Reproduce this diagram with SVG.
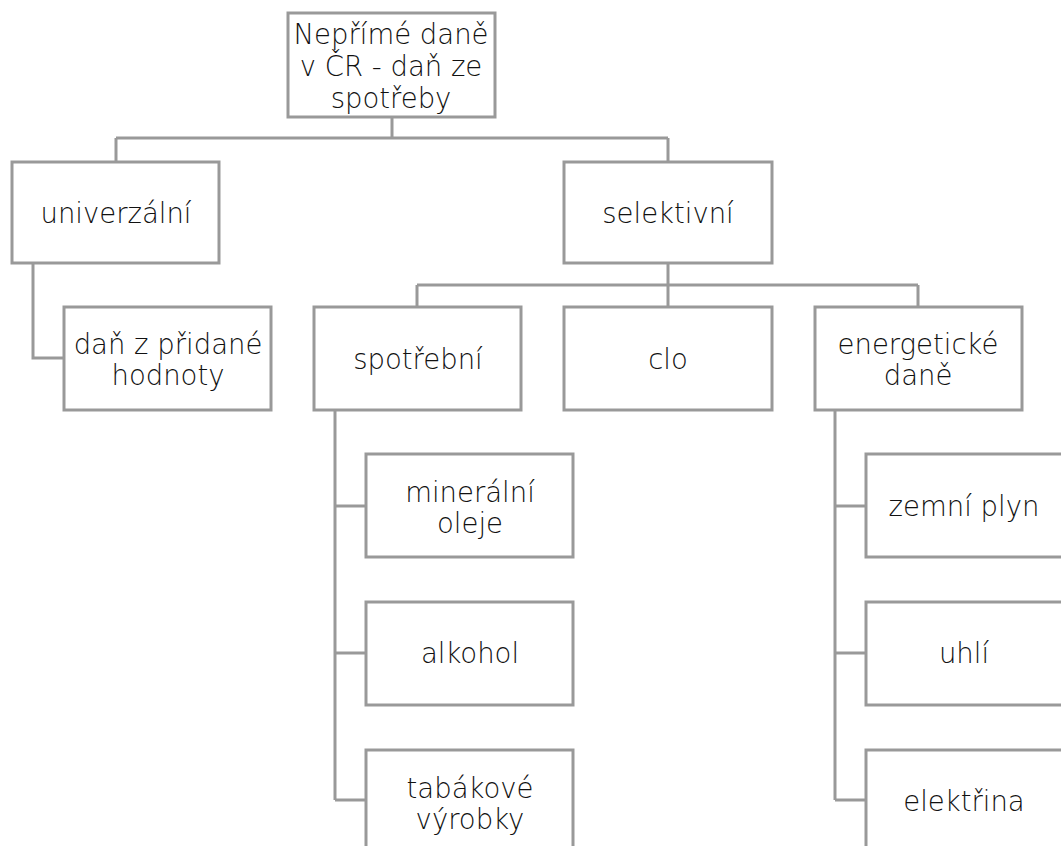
<svg xmlns="http://www.w3.org/2000/svg" width="1061" height="846" viewBox="0 0 1061 846">
<style>
.box{fill:#fff;stroke:#999;stroke-width:3}
.c{fill:none;stroke:#999;stroke-width:3}
text{font-family:"DejaVu Sans",sans-serif;font-size:27.5px;font-weight:300;fill:#111;text-anchor:middle}
</style>
<rect width="1061" height="846" fill="#fff"/>
<g id="connectors">
<path class="c" d="M392 117V138M116 138H668M116 138V162M668 138V162"/>
<path class="c" d="M33 263V358H64"/>
<path class="c" d="M668 263V307M417 285H918M417 285V307M918 285V307"/>
<path class="c" d="M335 410V800M335 506H366M335 653H366M335 800H366"/>
<path class="c" d="M835 410V800M835 506H866M835 653H866M835 800H866"/>
</g>
<g id="root"><rect class="box" x="288" y="13" width="207" height="104"/><text x="391" y="44">Nepřímé daně</text><text x="391" y="76">v ČR - daň ze</text><text x="391" y="108">spotřeby</text></g>
<g id="univerzalni"><rect class="box" x="12" y="162" width="207" height="101"/><text x="116" y="223">univerzální</text></g>
<g id="selektivni"><rect class="box" x="564" y="162" width="208" height="101"/><text x="668" y="223">selektivní</text></g>
<g id="dph"><rect class="box" x="64" y="307" width="207" height="103"/><text x="168" y="354">daň z přidané</text><text x="168" y="385">hodnoty</text></g>
<g id="spotrebni"><rect class="box" x="314" y="307" width="207" height="103"/><text x="418" y="369">spotřební</text></g>
<g id="clo"><rect class="box" x="564" y="307" width="208" height="103"/><text x="668" y="369">clo</text></g>
<g id="energeticke"><rect class="box" x="815" y="307" width="207" height="103"/><text x="918" y="354">energetické</text><text x="918" y="385">daně</text></g>
<g id="mineralni"><rect class="box" x="366" y="454" width="207" height="103"/><text x="470" y="502">minerální</text><text x="470" y="533">oleje</text></g>
<g id="alkohol"><rect class="box" x="366" y="602" width="207" height="103"/><text x="470" y="663">alkohol</text></g>
<g id="tabakove"><rect class="box" x="366" y="750" width="207" height="103"/><text x="470" y="798">tabákové</text><text x="470" y="829">výrobky</text></g>
<g id="zemni"><rect class="box" x="866" y="454" width="207" height="103"/><text x="964" y="516">zemní plyn</text></g>
<g id="uhli"><rect class="box" x="866" y="602" width="207" height="103"/><text x="964" y="663">uhlí</text></g>
<g id="elektrina"><rect class="box" x="866" y="750" width="207" height="103"/><text x="964" y="811">elektřina</text></g>
</svg>
